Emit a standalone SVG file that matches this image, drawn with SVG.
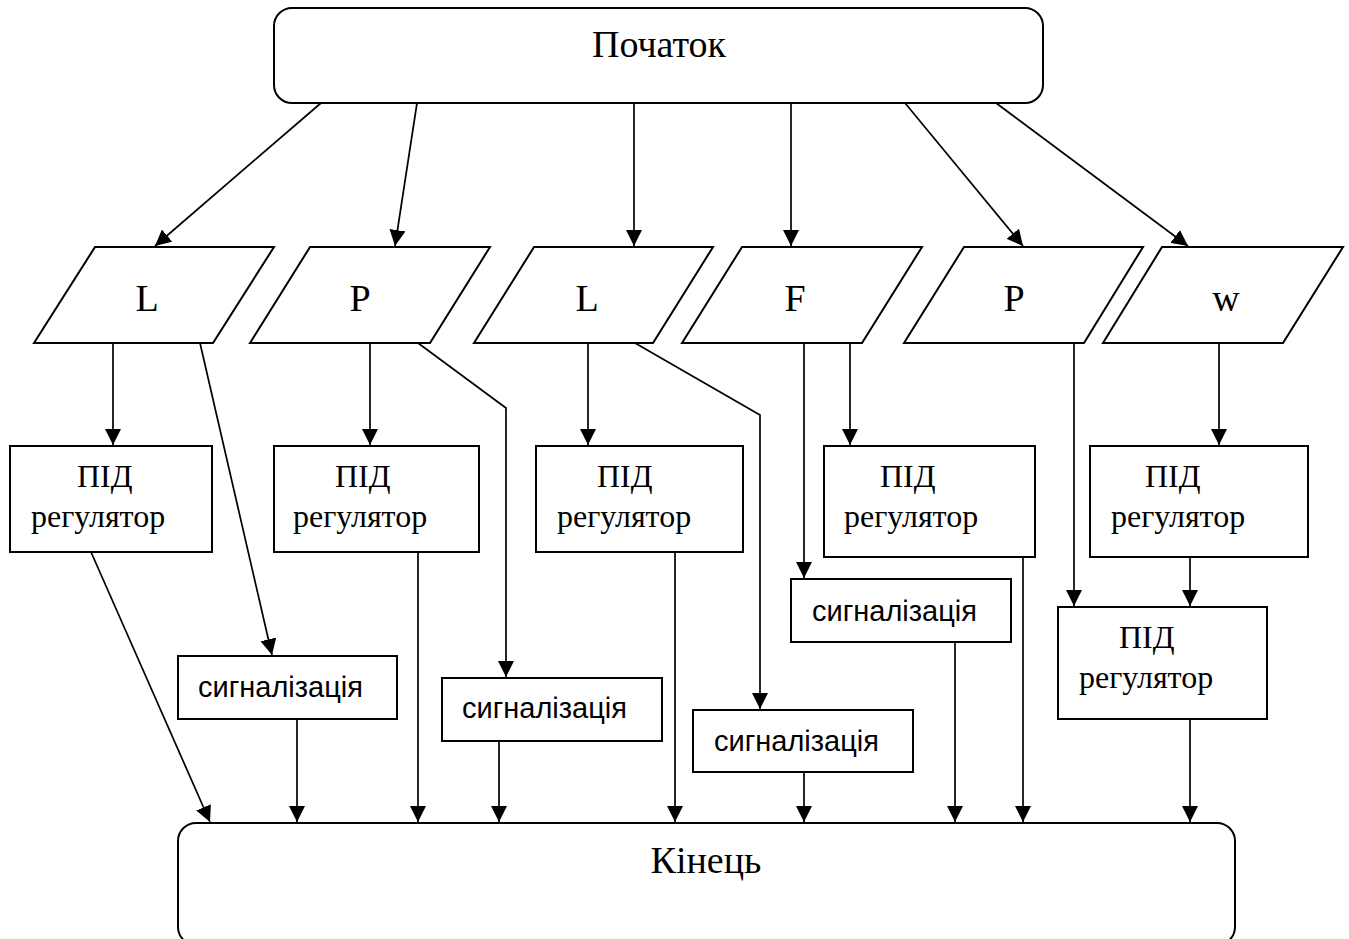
<svg xmlns="http://www.w3.org/2000/svg" width="1349" height="939" viewBox="0 0 1349 939">
<style>
.shape{fill:#fff;stroke:#000;stroke-width:2}
.big{font-family:"Liberation Serif","Times New Roman",serif;font-size:38px;fill:#000}
.pid{font-family:"Liberation Serif","Times New Roman",serif;font-size:32px;fill:#000}
.sig{font-family:"Liberation Sans",Arial,sans-serif;font-size:29px;fill:#000}
.conn line,.conn polyline{stroke:#000;stroke-width:1.7;fill:none;marker-end:url(#arr)}
</style>
<defs>
<marker id="arr" markerUnits="userSpaceOnUse" markerWidth="16" markerHeight="16" refX="16" refY="8" orient="auto">
<path d="M0,0 L16,8 L0,16 z" fill="#000"/>
</marker>
</defs>
<rect width="1349" height="939" fill="#fff"/>

<g id="start"><rect class="shape" x="274" y="8" width="769" height="95" rx="18"/><text class="big" x="659" y="57" text-anchor="middle">Початок</text></g>

<g id="in-L1"><polygon class="shape" points="95,247 274,247 213,343 34,343"/><text class="big" x="147" y="311" text-anchor="middle">L</text></g>
<g id="in-P2"><polygon class="shape" points="310,247 490,247 430,343 250,343"/><text class="big" x="360" y="311" text-anchor="middle">P</text></g>
<g id="in-L3"><polygon class="shape" points="534,247 713,247 653,343 474,343"/><text class="big" x="587" y="311" text-anchor="middle">L</text></g>
<g id="in-F"><polygon class="shape" points="742,247 922,247 862,343 682,343"/><text class="big" x="795" y="311" text-anchor="middle">F</text></g>
<g id="in-P5"><polygon class="shape" points="964,247 1143,247 1084,343 904,343"/><text class="big" x="1014" y="311" text-anchor="middle">P</text></g>
<g id="in-w"><polygon class="shape" points="1162,247 1343,247 1283,343 1103,343"/><text class="big" x="1226" y="311" text-anchor="middle">w</text></g>

<g id="pid1"><rect class="shape" x="10" y="446" width="202" height="106"/><text class="pid" x="77" y="487">ПІД</text><text class="pid" x="31" y="527">регулятор</text></g>
<g id="pid2"><rect class="shape" x="274" y="446" width="205" height="106"/><text class="pid" x="335" y="487">ПІД</text><text class="pid" x="293" y="527">регулятор</text></g>
<g id="pid3"><rect class="shape" x="536" y="446" width="207" height="106"/><text class="pid" x="597" y="487">ПІД</text><text class="pid" x="557" y="527">регулятор</text></g>
<g id="pid4"><rect class="shape" x="824" y="446" width="211" height="111"/><text class="pid" x="880" y="487">ПІД</text><text class="pid" x="844" y="527">регулятор</text></g>
<g id="pid5"><rect class="shape" x="1090" y="446" width="218" height="111"/><text class="pid" x="1145" y="487">ПІД</text><text class="pid" x="1111" y="527">регулятор</text></g>
<g id="pid6"><rect class="shape" x="1058" y="607" width="209" height="112"/><text class="pid" x="1119" y="648">ПІД</text><text class="pid" x="1079" y="688">регулятор</text></g>

<g id="sig1"><rect class="shape" x="178" y="656" width="219" height="63"/><text class="sig" x="198" y="697">сигналізація</text></g>
<g id="sig2"><rect class="shape" x="442" y="678" width="220" height="63"/><text class="sig" x="462" y="718">сигналізація</text></g>
<g id="sig3"><rect class="shape" x="791" y="579" width="220" height="63"/><text class="sig" x="812" y="621">сигналізація</text></g>
<g id="sig4"><rect class="shape" x="693" y="710" width="220" height="62"/><text class="sig" x="714" y="751">сигналізація</text></g>

<g id="end"><rect class="shape" x="178" y="823" width="1057" height="122" rx="18"/><text class="big" x="706" y="873" text-anchor="middle">Кінець</text></g>

<g id="connectors" class="conn">
<line x1="321" y1="103" x2="155" y2="246"/>
<line x1="417" y1="103" x2="395" y2="246"/>
<line x1="634" y1="103" x2="634" y2="246"/>
<line x1="791" y1="103" x2="791" y2="246"/>
<line x1="905" y1="103" x2="1023" y2="246"/>
<line x1="996" y1="103" x2="1188" y2="246"/>

<line x1="113" y1="343" x2="113" y2="445"/>
<line x1="200" y1="343" x2="272" y2="655"/>
<line x1="370" y1="343" x2="370" y2="445"/>
<polyline points="418,343 506,408 506,677"/>
<line x1="588" y1="343" x2="588" y2="445"/>
<polyline points="635,343 760,415 760,709"/>
<line x1="804" y1="343" x2="804" y2="578"/>
<line x1="850" y1="343" x2="850" y2="445"/>
<line x1="1074" y1="343" x2="1074" y2="606"/>
<line x1="1219" y1="343" x2="1219" y2="445"/>
<line x1="1190" y1="557" x2="1190" y2="606"/>

<line x1="91" y1="552" x2="210" y2="822"/>
<line x1="297" y1="719" x2="297" y2="822"/>
<line x1="418" y1="552" x2="418" y2="822"/>
<line x1="499" y1="741" x2="499" y2="822"/>
<line x1="675" y1="552" x2="675" y2="822"/>
<line x1="804" y1="772" x2="804" y2="822"/>
<line x1="955" y1="642" x2="955" y2="822"/>
<line x1="1023" y1="557" x2="1023" y2="822"/>
<line x1="1190" y1="719" x2="1190" y2="822"/>
</g>
</svg>
